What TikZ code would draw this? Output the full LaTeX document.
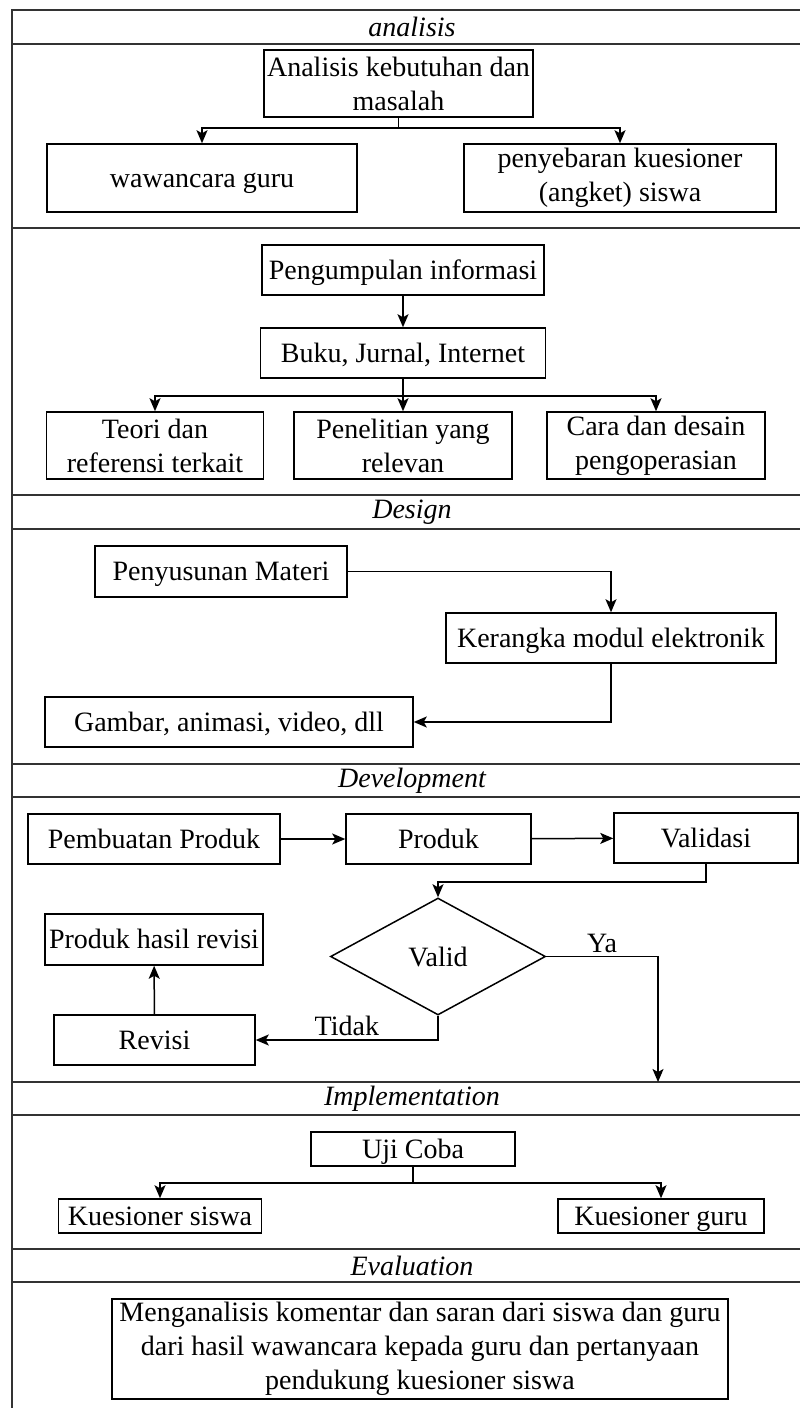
\documentclass[tikz,border=0pt]{standalone}
\usepackage{fontspec}
\setmainfont{Liberation Serif}
\usetikzlibrary{arrows.meta,shapes.geometric}

\begin{document}
\begin{tikzpicture}[x=1pt,y=-1pt,
  box/.style={draw,line width=1.5pt,inner sep=1pt,align=center,
    font=\fontsize{28}{34}\selectfont},
  sline/.style={box,text height=24pt,text depth=6pt},
  hdr/.style={font=\fontsize{28}{34}\selectfont\itshape},
  lbl/.style={font=\fontsize{28}{34}\selectfont},
  arr/.style={line width=1.5pt,-{Stealth[length=13pt,width=11pt,inset=3pt]}},
  frm/.style={line width=2pt,draw=black!80}]
\useasboundingbox (0,0) rectangle (800,1408);

% Outer frame and phase rows
\draw[frm] (812,10) -- (12,10) -- (12,1410);
\foreach \y in {44,228,495,529,764,797,1082,1115,1249,1282}
  \draw[frm] (12,\y) -- (812,\y);

\node[hdr] (hana) at (412,27) {analisis};
\node[hdr] (hdes) at (412,512) {Design};
\node[hdr] (hdev) at (412,780.5) {Development};
\node[hdr] (himp) at (412,1098.5) {Implementation};
\node[hdr] (heva) at (412,1265.5) {Evaluation};

% analisis
\node[box,minimum width=269pt,minimum height=67pt] (ana) at (398.5,83.5)
  {Analisis kebutuhan dan\\masalah};
\node[sline,minimum width=310pt,minimum height=68pt] (waw) at (202,178)
  {wawancara guru};
\node[box,minimum width=312pt,minimum height=68pt] (peny) at (620,178)
  {penyebaran kuesioner\\(angket) siswa};
\draw[arr] (ana.south) -- ++(0,10) -| (waw.north);
\draw[arr] (ana.south) -- ++(0,10) -| (peny.north);

% informasi
\node[sline,minimum width=282pt,minimum height=50pt] (peng) at (403,270)
  {Pengumpulan informasi};
\node[sline,minimum width=285pt,minimum height=50pt] (buku) at (403,353)
  {Buku, Jurnal, Internet};
\node[box,minimum width=217pt,minimum height=67pt] (teori) at (155,445.5)
  {Teori dan\\referensi terkait};
\node[box,minimum width=218pt,minimum height=67pt] (pene) at (403,445.5)
  {Penelitian yang\\relevan};
\node[box,minimum width=218pt,minimum height=67pt] (cara) at (656,445.5)
  {Cara dan desain\\pengoperasian};
\draw[arr] (peng) -- (buku);
\draw[arr] (buku.south) -- ++(0,17) -| (teori.north);
\draw[arr] (buku) -- (pene);
\draw[arr] (buku.south) -- ++(0,17) -| (cara.north);

% Design
\node[sline,minimum width=252pt,minimum height=51pt] (susun) at (221,571.5)
  {Penyusunan Materi};
\node[sline,minimum width=330pt,minimum height=50pt] (rangka) at (611,638)
  {Kerangka modul elektronik};
\node[sline,minimum width=368pt,minimum height=50pt] (gambar) at (229,722)
  {Gambar, animasi, video, dll};
\draw[arr] (susun.east) -| (rangka.north);
\draw[arr] (rangka.south) |- (gambar.east);

% Development
\node[sline,minimum width=252pt,minimum height=50pt] (buat) at (154,839)
  {Pembuatan Produk};
\node[sline,minimum width=185pt,minimum height=50pt] (produk) at (438.5,839)
  {Produk};
\node[sline,minimum width=184pt,minimum height=50pt] (valid) at (706,838)
  {Validasi};
\node[draw,diamond,line width=1.5pt,inner sep=0pt,lbl,
  minimum width=215pt,minimum height=117pt] (cek) at (438,956.5) {Valid};
\node[sline,minimum width=218pt,minimum height=51pt] (hasil) at (154,939.5)
  {Produk hasil revisi};
\node[sline,minimum width=201pt,minimum height=50pt] (rev) at (154.5,1040)
  {Revisi};
\coordinate (yaend) at (658,1082);
\draw[arr] (buat) -- (produk);
\draw[arr] (produk) -- (valid);
\draw[arr] (valid.south) -- ++(0,18) -| (cek.north);
\draw[arr] (cek.east) -| node[pos=0.25,above,lbl] {Ya} (yaend);
\draw[arr] (cek.south) |- node[pos=0.75,above,lbl] {Tidak} (rev.east);
\draw[arr] (rev) -- (hasil);

% Implementation
\node[sline,minimum width=204pt,minimum height=34pt] (uji) at (413,1149)
  {Uji Coba};
\node[sline,minimum width=203pt,minimum height=34pt] (ksis) at (160,1216)
  {Kuesioner siswa};
\node[sline,minimum width=206pt,minimum height=34pt] (kgur) at (661,1216)
  {Kuesioner guru};
\draw[arr] (uji.south) -- ++(0,16) -| (ksis.north);
\draw[arr] (uji.south) -- ++(0,16) -| (kgur.north);

% Evaluation
\node[box,minimum width=616pt,minimum height=100pt] (eval) at (420,1349)
  {Menganalisis komentar dan saran dari siswa dan guru\\
   dari hasil wawancara kepada guru dan pertanyaan\\
   pendukung kuesioner siswa};

\end{tikzpicture}
\end{document}
